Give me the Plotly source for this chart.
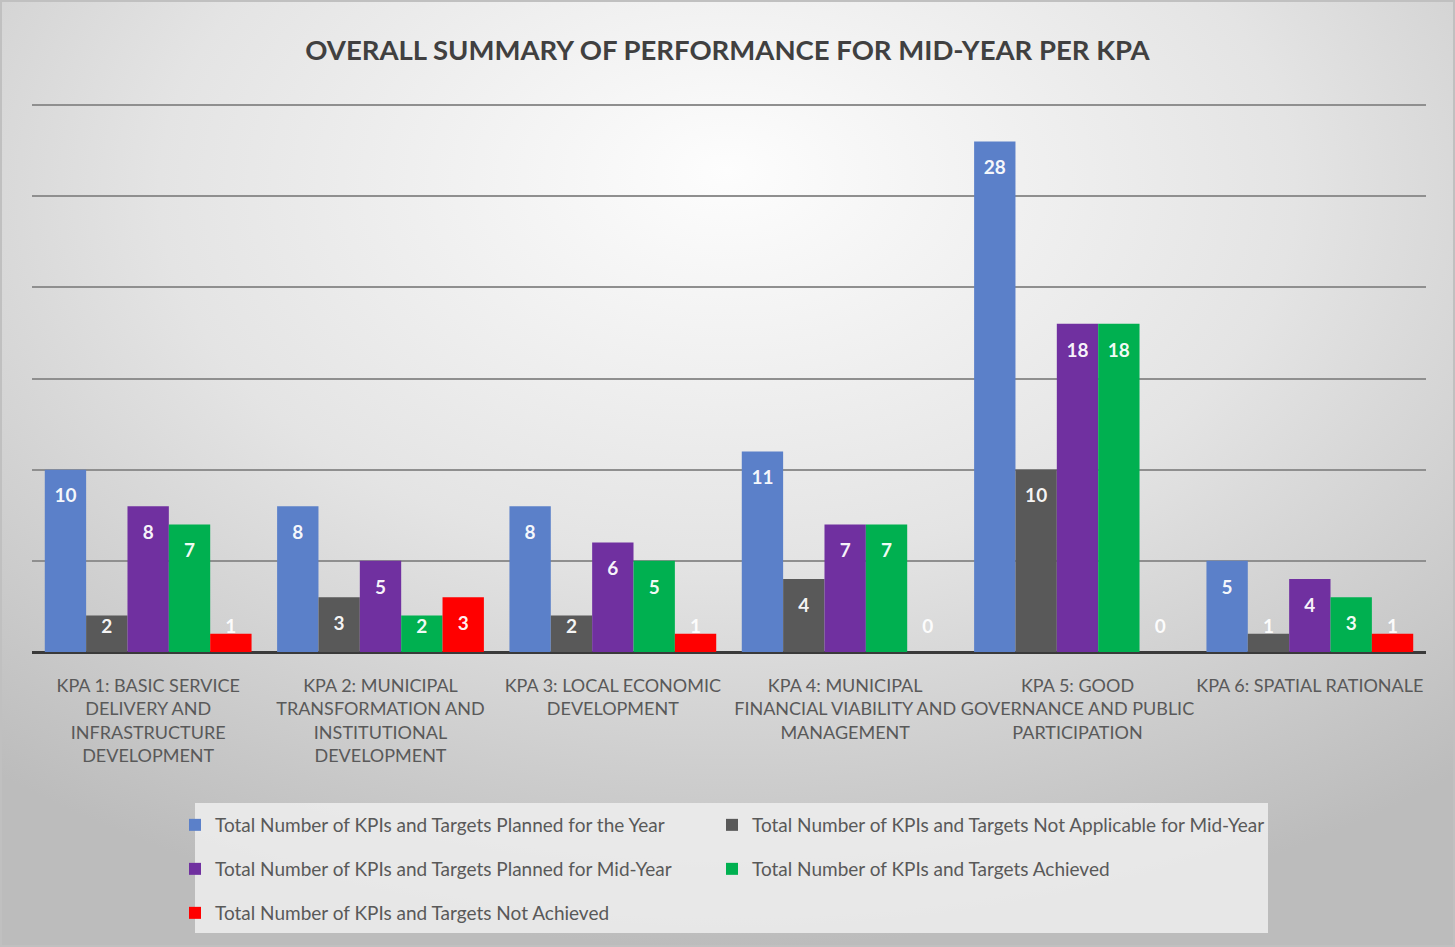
import base64
import plotly.graph_objects as go

categories = [
    "KPA 1: BASIC SERVICE<br>DELIVERY AND<br>INFRASTRUCTURE<br>DEVELOPMENT",
    "KPA 2: MUNICIPAL<br>TRANSFORMATION AND<br>INSTITUTIONAL<br>DEVELOPMENT",
    "KPA 3: LOCAL ECONOMIC<br>DEVELOPMENT",
    "KPA 4: MUNICIPAL<br>FINANCIAL VIABILITY AND<br>MANAGEMENT",
    "KPA 5: GOOD<br>GOVERNANCE AND PUBLIC<br>PARTICIPATION",
    "KPA 6: SPATIAL RATIONALE",
]
planned_year = [10, 8, 8, 11, 28, 5]
not_applicable = [2, 3, 2, 4, 10, 1]
planned_mid = [8, 5, 6, 7, 18, 4]
achieved = [7, 2, 5, 7, 18, 3]
not_achieved = [1, 3, 1, 0, 0, 1]

series_names = [
    "Total Number of KPIs and Targets Planned for the Year",
    "Total Number of KPIs and Targets Not Applicable for Mid-Year",
    "Total Number of KPIs and Targets Planned for Mid-Year",
    "Total Number of KPIs and Targets Achieved",
    "Total Number of KPIs and Targets Not Achieved",
]
series_values = [planned_year, not_applicable, planned_mid, achieved, not_achieved]
colors = ["#5B80C9", "#595959", "#7030A0", "#00B050", "#FF0000"]
legend_ids = ["legend", "legend2", "legend3", "legend4", "legend5"]

W, H = 1455, 947
BASE_Y = 652                      # pixel row of the value axis zero
PX_PER_UNIT = 547 / 30
YMAX = 30.5
ML, MR = 32, 29
PH = round(YMAX * PX_PER_UNIT)
MT = BASE_Y - PH
MB = H - BASE_Y
PW = W - ML - MR

FONT = "Lato, Roboto, sans-serif"


def py(pix):
    """pixel row -> paper y"""
    return (BASE_Y - pix) / PH


def px(pix):
    """pixel column -> paper x"""
    return (pix - ML) / PW


fig = go.Figure()
xs = list(range(len(categories)))
bargap = 0.11
bw = (1 - bargap) / len(series_values)

for name, vals, col, lg in zip(series_names, series_values, colors, legend_ids):
    fig.add_trace(go.Bar(x=xs, y=vals, name=name, legend=lg,
                         marker=dict(color=col, line=dict(width=0)), hoverinfo="y"))

# data labels (inside end, like the original)
for i, vals in enumerate(series_values):
    off = (i - 2) * bw
    ypos = [max(v - 28 / PX_PER_UNIT, 24 / PX_PER_UNIT) for v in vals]
    fig.add_trace(go.Scatter(
        x=[x + off for x in xs], y=ypos, mode="text",
        text=[str(v) for v in vals],
        textfont=dict(family=FONT, size=19, color="rgba(255,255,255,0.95)", weight="bold"),
        showlegend=False, hoverinfo="skip", cliponaxis=False,
    ))

svg = f'''<svg xmlns="http://www.w3.org/2000/svg" width="{W}" height="{H}" viewBox="0 0 {W} {H}" preserveAspectRatio="none">
<defs><radialGradient id="g" cx="50%" cy="22%" r="78%" fx="50%" fy="18%">
<stop offset="0" stop-color="#fdfdfd"/><stop offset="0.5" stop-color="#e4e4e4"/><stop offset="1" stop-color="#bcbcbc"/>
</radialGradient></defs>
<rect width="{W}" height="{H}" fill="url(#g)"/>
<rect x="1" y="1" width="{W-2}" height="{H-2}" fill="none" stroke="#c0c0c0" stroke-width="2"/>
</svg>'''
src = "data:image/svg+xml;base64," + base64.b64encode(svg.encode()).decode()

legend_common = dict(orientation="h", xanchor="left", yanchor="top",
                     bgcolor="rgba(0,0,0,0)", itemwidth=30,
                     font=dict(family=FONT, size=19, color="#595959"))
COL_X = [px(175), px(712)]
ROW_Y = [py(806), py(850), py(894)]

fig.update_layout(
    width=W, height=H,
    margin=dict(l=ML, r=MR, t=MT, b=MB, autoexpand=False),
    paper_bgcolor="#dcdcdc",
    plot_bgcolor="rgba(0,0,0,0)",
    barmode="group", bargap=bargap, bargroupgap=0,
    images=[dict(source=src, xref="paper", yref="paper",
                 x=-ML / PW, y=1 + MT / PH, sizex=W / PW, sizey=H / PH,
                 xanchor="left", yanchor="top", sizing="stretch", layer="below")],
    shapes=[dict(type="rect", xref="paper", yref="paper",
                 x0=px(195), x1=px(1268), y0=py(933), y1=py(803),
                 fillcolor="rgba(238,238,238,0.85)", line=dict(width=0), layer="below")],
    title=dict(text="<b>OVERALL SUMMARY OF PERFORMANCE FOR MID-YEAR PER KPA</b>",
               x=0.5, xanchor="center", y=1 - 50 / H, yanchor="middle",
               font=dict(family=FONT, size=27.5, color="#404040")),
    font=dict(family=FONT, color="#595959"),
    xaxis=dict(tickmode="array", tickvals=xs, ticktext=categories, range=[-0.5, 5.5],
               showgrid=False, zeroline=False, ticks="", showline=False, tickangle=0,
               ticklabelstandoff=21,
               tickfont=dict(family=FONT, size=18, color="#595959")),
    yaxis=dict(range=[0, YMAX], tickvals=[0, 5, 10, 15, 20, 25, 30], showticklabels=False,
               showgrid=True, gridcolor="#8f8f8f", gridwidth=2,
               zeroline=True, zerolinecolor="#3a3a3a", zerolinewidth=3),
    legend=dict(legend_common, x=COL_X[0], y=ROW_Y[0]),
    legend2=dict(legend_common, x=COL_X[1], y=ROW_Y[0]),
    legend3=dict(legend_common, x=COL_X[0], y=ROW_Y[1]),
    legend4=dict(legend_common, x=COL_X[1], y=ROW_Y[1]),
    legend5=dict(legend_common, x=COL_X[0], y=ROW_Y[2]),
    showlegend=True,
)

fig.write_html("out.html", config={"displayModeBar": False},
               post_script="document.body.style.margin='0';")
